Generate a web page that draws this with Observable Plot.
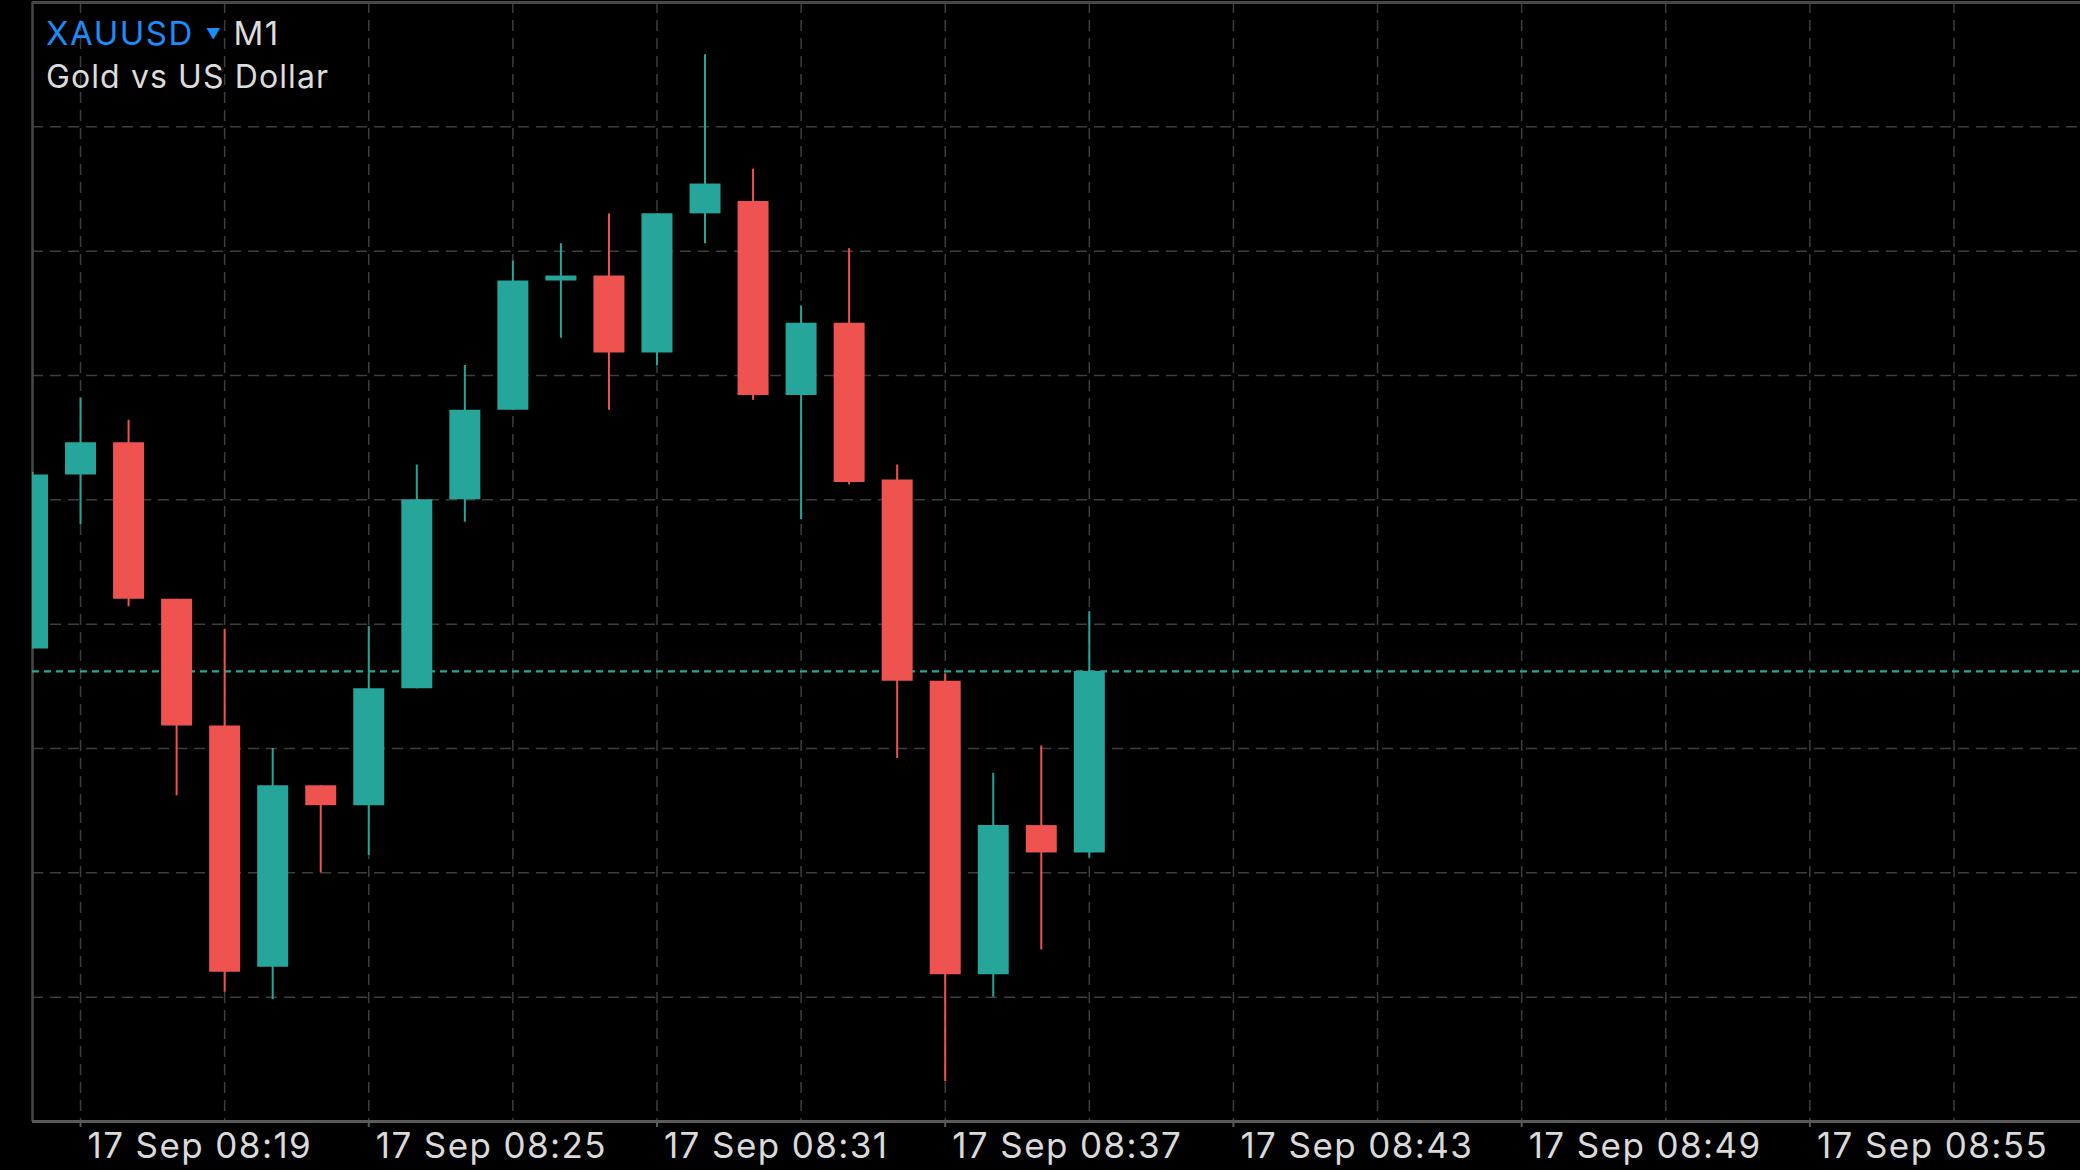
<!DOCTYPE html>
<html>
<head>
<meta charset="utf-8">
<script src="https://cdn.jsdelivr.net/npm/d3@7"></script>
<script src="https://cdn.jsdelivr.net/npm/@observablehq/plot@0.6"></script>
<style>
  html, body { margin: 0; padding: 0; background: #000; overflow: hidden; }
  #wrap { position: relative; width: 2080px; height: 1170px; }
  #chart svg text { letter-spacing: 1.4px; }
  .ttl { position: absolute; left: 46px; font-family: Inter, "Noto Sans", sans-serif; white-space: nowrap;
         color: #dcdcdc; pointer-events: none; }
  #t1 { top: 17px; font-size: 33px; line-height: 33px; letter-spacing: 1.5px; }
  #t2 { top: 61px; font-size: 32px; line-height: 32px; letter-spacing: 1.1px; }
  #t1 .sym { color: #1d8cf8; }
  #t1 .tri { color: #1d8cf8; font-size: 15px; position: relative; top: -6px; margin: 0 11px 0 12px; }
</style>
</head>
<body>
<div id="wrap">
  <div id="chart"></div>
  <div id="t1" class="ttl"><span class="sym">XAUUSD</span><span class="tri">▼</span>M1</div>
  <div id="t2" class="ttl">Gold vs US Dollar</div>
</div>
<script>
// Candle data (M1), 17 Sep
const times  = ["08:18","08:19","08:20","08:21","08:22","08:23","08:24","08:25","08:26","08:27","08:28","08:29","08:30","08:31","08:32","08:33","08:34","08:35","08:36","08:37","08:38","08:39","08:40"];
const opens  = [2578.90,2579.60,2579.73,2579.10,2578.59,2577.62,2578.35,2578.27,2578.74,2579.50,2579.86,2580.38,2580.40,2580.09,2580.65,2580.70,2579.92,2580.21,2579.58,2578.77,2577.59,2578.19,2578.08];
const highs  = [2579.61,2579.91,2579.82,2579.10,2578.98,2578.50,2578.35,2578.99,2579.64,2580.04,2580.46,2580.53,2580.65,2580.65,2581.29,2580.83,2580.28,2580.51,2579.64,2578.80,2578.40,2578.51,2579.05];
const lows   = [2578.90,2579.40,2579.07,2578.31,2577.52,2577.49,2578.00,2578.07,2578.74,2579.41,2579.86,2580.15,2579.86,2580.04,2580.53,2579.90,2579.42,2579.56,2578.46,2577.16,2577.50,2577.69,2578.06];
const closes = [2579.60,2579.73,2579.10,2578.59,2577.60,2578.35,2578.27,2578.74,2579.50,2579.86,2580.38,2580.40,2580.09,2580.65,2580.77,2579.92,2580.21,2579.57,2578.77,2577.59,2578.19,2578.08,2578.81];

// Axis / grid values
const xDomainTimes = ["08:18:00", "09:00:38"];
const priceDomain  = [2577.0, 2581.5];
const gridPrices   = [2577.5, 2578.0, 2578.5, 2579.0, 2579.5, 2580.0, 2580.5, 2581.0];
const gridTimes    = ["08:19","08:22","08:25","08:28","08:31","08:34","08:37","08:40","08:43","08:46","08:49","08:52","08:55","08:58"];
const labelTimes   = ["08:19","08:25","08:31","08:37","08:43","08:49","08:55"];

const day = "2024-09-17T";
const toDate = s => new Date(day + (s.length === 5 ? s + ":00" : s) + "Z");
const fmt = d3.utcFormat("%d %b %H:%M");

const UP = "#26a69a", DOWN = "#ef5350";
const rows = times.map((t, i) => ({
  t: toDate(t), open: opens[i], high: highs[i], low: lows[i], close: closes[i],
  color: closes[i] >= opens[i] ? UP : DOWN
}));
const lastClose = closes[closes.length - 1];

const chart = Plot.plot({
  width: 2080,
  height: 1170,
  marginLeft: 32,
  marginRight: 0,
  marginTop: 2,
  marginBottom: 49,
  style: { background: "#000", fontFamily: "Inter, 'Noto Sans', sans-serif", overflow: "visible" },
  x: { type: "utc", domain: xDomainTimes.map(toDate) },
  y: { domain: priceDomain, axis: null },
  color: { type: "identity" },
  marks: [
    Plot.gridX({ ticks: gridTimes.map(toDate), stroke: "#3e3e3e", strokeOpacity: 1, strokeWidth: 1.5, strokeDasharray: "11,7" }),
    Plot.gridY({ ticks: gridPrices, stroke: "#3e3e3e", strokeOpacity: 1, strokeWidth: 1.5, strokeDasharray: "11,7" }),
    // frame lines
    Plot.ruleX([xDomainTimes[0]].map(toDate), { stroke: "#474747", strokeWidth: 2.5 }),
    Plot.ruleY([priceDomain[1]], { stroke: "#474747", strokeWidth: 3 }),
    Plot.ruleY([priceDomain[0]], { stroke: "#5a5a5a", strokeWidth: 3 }),
    // current price line
    Plot.ruleY([lastClose], { stroke: UP, strokeWidth: 2.2, strokeDasharray: "7,5" }),
    // wicks
    Plot.ruleX(rows, { x: "t", y1: "low", y2: "high", stroke: "color", strokeWidth: 2, clip: true }),
    // bodies
    Plot.ruleX(rows, { x: "t", y1: "open", y2: "close", stroke: "color", strokeWidth: 31, clip: true }),
    // x axis ticks and labels
    Plot.axisX({ ticks: labelTimes.map(toDate), tickSize: 6, tickFormat: () => "", stroke: "#5a5a5a", strokeWidth: 2 }),
    Plot.text(labelTimes.map(toDate), {
      x: d => d, text: d => fmt(d), frameAnchor: "bottom", dy: 25, dx: 7,
      textAnchor: "start", lineAnchor: "middle", fill: "#dadada", fontSize: 35
    })
  ]
});
document.getElementById("chart").appendChild(chart);
</script>
</body>
</html>
